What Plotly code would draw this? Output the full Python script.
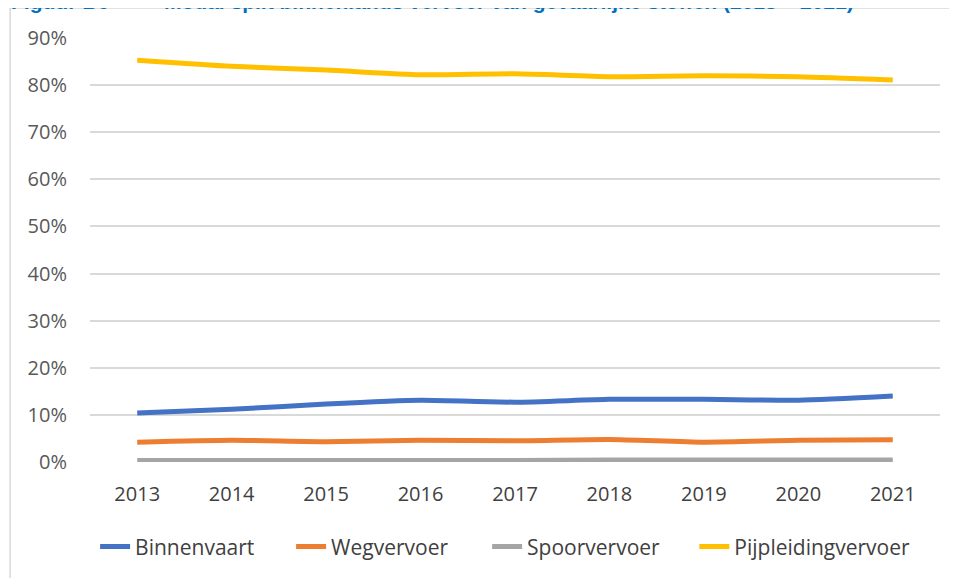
import plotly.graph_objects as go

# Modal split binnenlands vervoer van gevaarlijke stoffen (2013 - 2021)
years = ["2013", "2014", "2015", "2016", "2017", "2018", "2019", "2020", "2021"]
binnenvaart = [0.104, 0.112, 0.123, 0.131, 0.127, 0.133, 0.133, 0.131, 0.140]
wegvervoer = [0.042, 0.046, 0.043, 0.046, 0.045, 0.048, 0.042, 0.046, 0.047]
spoorvervoer = [0.003, 0.003, 0.003, 0.003, 0.003, 0.004, 0.004, 0.004, 0.004]
pijpleiding = [0.853, 0.840, 0.832, 0.822, 0.824, 0.818, 0.820, 0.818, 0.811]

series = [
    ("Binnenvaart", binnenvaart, "#4472C4", "legend"),
    ("Wegvervoer", wegvervoer, "#ED7D31", "legend"),
    ("Spoorvervoer", spoorvervoer, "#A5A5A5", "legend"),
    ("Pijpleidingvervoer", pijpleiding, "#FFC000", "legend2"),
]

fig = go.Figure()
for name, vals, col, leg in series:
    fig.add_trace(go.Scatter(x=years, y=vals, mode="lines", name=name, legend=leg,
                             line=dict(color=col, width=5, shape="spline", smoothing=0.6)))

font = "Open Sans, Calibri, sans-serif"
leg_font = dict(size=21, color="#404040")

# page body has an 8px margin, so margins are shifted by 8px
fig.update_layout(
    width=957, height=578,
    margin=dict(l=82, r=25, t=30, b=124),
    paper_bgcolor="white", plot_bgcolor="white",
    font=dict(family=font, size=20, color="#595959"),
    showlegend=True,
    legend=dict(orientation="h", x=0.006, xanchor="left", y=-0.2, yanchor="middle",
                font=leg_font, traceorder="normal",
                entrywidth=151, entrywidthmode="pixels"),
    legend2=dict(orientation="h", x=0.711, xanchor="left", y=-0.2, yanchor="middle",
                 font=leg_font),
    xaxis=dict(type="category", range=[-0.5, 8.5], showgrid=False, showline=False,
               ticks="outside", ticklen=14, tickcolor="rgba(0,0,0,0)",
               tickfont=dict(size=20, color="#404040")),
    yaxis=dict(range=[0, 0.9], dtick=0.1, tickformat=".0%", showgrid=True,
               gridcolor="#D9D9D9", gridwidth=1.5, zeroline=False, showline=False,
               ticks="outside", ticklen=18, tickcolor="rgba(0,0,0,0)",
               tickfont=dict(size=20, color="#595959")),
)

# clipped figure caption at the very top of the page
cap_font = dict(family="Liberation Sans, Arial", size=21, color="#0070C0")
fig.add_annotation(text="<b>Figuur B6</b>", xref="paper", yref="paper",
                   x=-0.095, y=1.085, xanchor="left", yanchor="middle", showarrow=False,
                   font=cap_font)
fig.add_annotation(text="<b>Modal split binnenlands vervoer van gevaarlijke stoffen (2013 – 2021)</b>",
                   xref="paper", yref="paper", x=0.085, y=1.085, xanchor="left",
                   yanchor="middle", showarrow=False, font=cap_font)

# thin frame around the chart area
fig.add_shape(type="line", xref="paper", yref="paper", x0=-0.094, x1=1.03,
              y0=1.071, y1=1.071, line=dict(color="#D9D9D9", width=1.5))
fig.add_shape(type="line", xref="paper", yref="paper", x0=-0.094, x1=-0.094,
              y0=1.071, y1=-0.3, line=dict(color="#D9D9D9", width=1.5))

fig.write_html("out.html")
